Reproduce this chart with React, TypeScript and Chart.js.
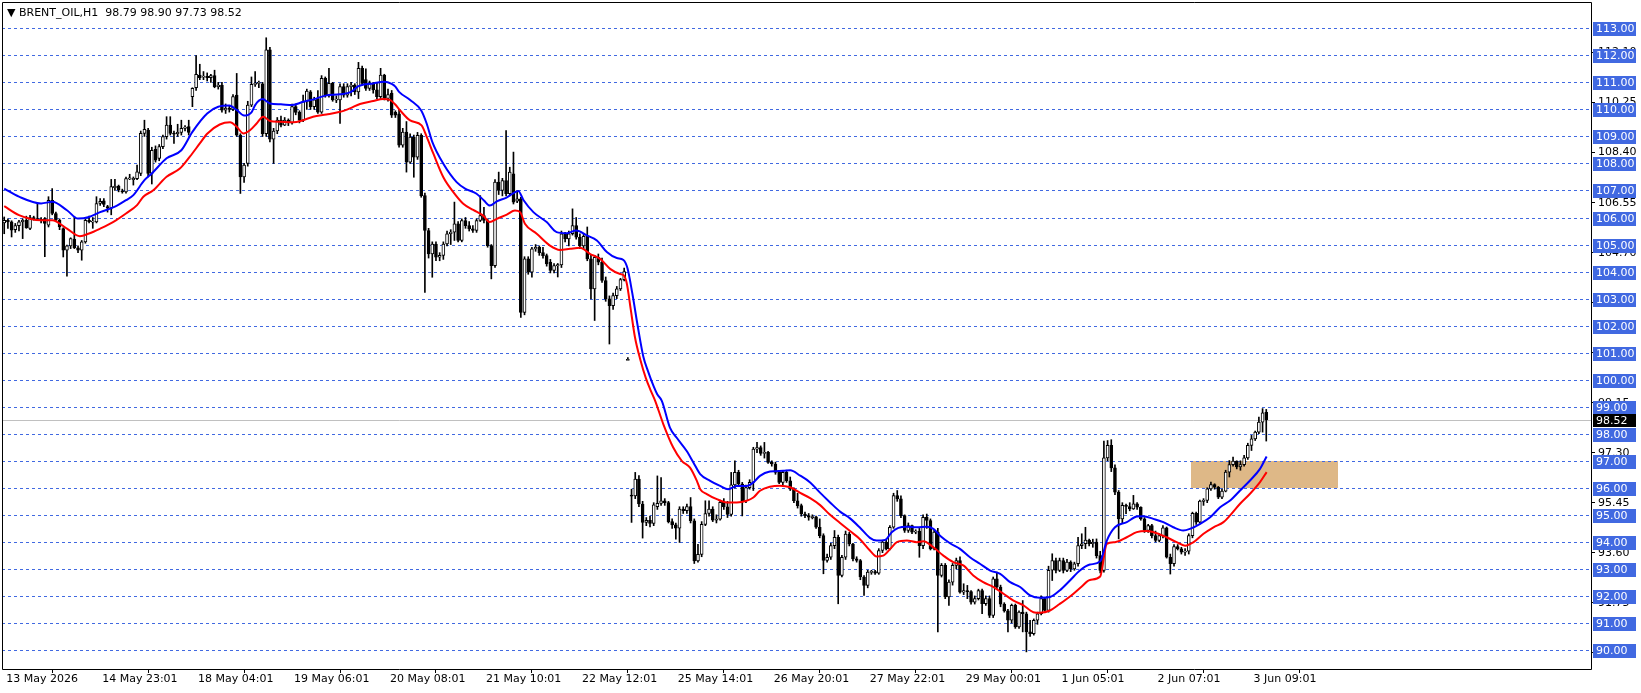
import React, { useEffect, useRef } from 'react';
import { Chart, registerables } from 'chart.js';

Chart.register(...registerables);

// ---- OHLC data (H1 bars, index 0 = 13 May 2026 evening) ----
const opens = [
  105.80,105.90,105.84,105.55,105.70,105.84,105.90,105.60,106.00,105.96,
  105.93,105.96,105.72,106.64,106.15,105.90,105.59,104.79,104.95,105.20,
  104.88,104.79,105.10,105.90,105.84,105.84,106.52,106.62,106.40,106.35,
  107.10,107.16,106.98,106.95,107.44,107.40,107.44,107.63,109.11,109.23,
  107.63,108.52,108.19,108.62,108.99,109.42,109.11,109.10,109.15,109.30,
  109.36,110.47,110.80,111.27,111.20,111.22,111.17,111.25,110.84,110.90,
  109.97,110.05,110.00,110.53,109.05,107.50,108.00,110.16,110.93,110.96,
  110.95,109.10,112.20,108.90,109.20,109.60,109.42,109.60,109.50,110.10,
  109.90,109.60,110.28,110.65,110.10,110.40,109.90,111.15,110.53,110.96,
  110.35,110.35,110.84,110.53,110.84,110.90,110.65,111.52,111.10,110.78,
  110.96,110.72,110.47,111.27,110.41,110.60,109.89,109.84,108.68,109.16,
  108.05,108.98,108.23,109.04,106.81,105.52,104.65,105.02,104.53,104.60,
  105.02,105.40,105.46,105.77,105.15,105.89,105.70,105.58,105.52,105.89,
  106.07,105.89,104.96,104.22,107.31,107.00,107.37,106.88,107.62,106.60,
  106.69,102.49,104.47,103.98,104.84,104.90,104.70,104.59,104.35,104.04,
  104.22,104.25,105.40,105.21,105.40,105.70,105.27,104.95,105.30,104.47,
  103.36,104.53,104.35,103.67,102.99,102.74,103.11,103.36,103.70,100.73,
  95.72,95.70,96.32,95.40,94.72,94.80,94.68,95.30,95.42,95.52,
  95.45,94.75,94.63,94.51,95.21,95.15,95.31,94.78,93.30,93.54,
  94.65,95.05,95.21,94.80,94.84,95.46,95.30,95.02,96.11,96.57,
  96.14,95.52,96.01,96.20,97.43,97.49,97.27,97.31,96.94,96.88,
  96.57,96.20,96.57,96.26,95.95,95.52,95.34,95.03,94.97,94.91,
  94.93,94.54,94.23,93.31,93.43,93.86,94.17,92.76,93.43,94.29,
  93.92,93.37,93.31,92.70,92.39,92.88,92.90,92.84,93.68,93.99,
  93.74,94.54,95.71,95.59,94.97,94.42,94.60,94.36,94.40,93.86,
  94.91,94.79,93.74,94.36,92.76,93.13,91.96,92.51,93.13,93.31,
  92.14,92.20,92.16,91.77,91.90,92.20,91.71,91.90,91.28,92.63,
  92.33,91.70,91.45,91.10,91.65,90.85,91.40,91.34,90.67,90.60,
  91.10,91.34,91.90,91.46,92.95,93.31,92.94,93.31,92.94,93.25,
  93.00,93.19,93.86,93.93,94.07,93.93,93.99,93.49,92.94,97.11,
  97.57,96.74,95.84,94.85,95.35,95.31,95.22,95.41,95.28,94.85,
  94.42,94.60,94.23,94.05,94.23,94.52,93.43,93.19,93.83,93.74,
  93.62,93.66,94.23,95.06,94.73,95.51,95.53,95.96,96.12,96.02,
  95.65,95.88,96.58,96.86,96.99,96.77,96.86,97.11,97.57,97.81,
  98.06,98.43,98.79,
];
const highs = [
  106.02,105.95,105.88,105.78,105.90,105.95,106.05,106.08,106.05,106.50,
  106.00,106.00,106.77,107.07,106.20,105.95,105.62,104.98,105.25,106.02,
  104.95,105.15,105.95,106.05,106.00,106.77,106.70,106.70,106.45,107.41,
  107.41,107.20,107.05,107.50,107.60,107.50,107.94,109.20,109.60,109.30,
  108.60,108.65,108.70,109.05,109.73,109.73,109.20,109.45,109.60,109.40,
  109.60,110.80,111.99,111.67,111.40,111.35,111.30,111.45,111.00,111.00,
  110.20,110.15,110.55,111.33,109.10,108.00,110.30,111.20,111.40,111.05,
  111.00,112.65,112.30,109.30,109.70,109.75,109.70,109.65,110.20,110.20,
  109.95,110.53,110.75,110.70,110.45,110.70,111.25,111.20,111.52,111.00,
  110.50,110.95,110.95,110.95,111.00,110.95,111.74,111.60,111.50,111.05,
  111.00,111.00,111.52,111.30,110.75,110.70,109.95,110.00,109.30,109.55,
  109.10,109.05,109.15,109.10,106.90,105.60,105.10,105.10,104.70,105.10,
  105.50,105.55,106.57,105.85,105.95,106.00,105.85,105.70,105.95,106.81,
  106.38,105.95,105.00,107.40,107.68,107.45,109.22,107.86,108.42,107.00,
  106.75,104.55,104.55,104.90,105.00,104.95,104.90,104.65,104.45,104.30,
  104.30,105.50,105.45,105.50,106.32,106.00,105.40,105.40,105.65,104.60,
  104.60,104.65,104.50,103.80,103.10,103.20,103.45,103.75,104.13,100.82,
  95.95,96.57,96.45,95.50,94.90,94.95,95.45,96.44,96.38,95.60,
  95.50,94.85,94.70,95.30,95.30,95.40,95.64,94.85,93.91,94.75,
  95.52,95.52,95.30,95.00,95.55,95.60,95.50,96.57,97.00,96.65,
  96.20,96.10,96.30,97.50,97.68,97.55,97.68,97.35,97.00,96.95,
  96.62,96.65,96.65,96.40,96.00,95.80,95.40,95.10,95.05,95.00,
  94.95,94.85,94.30,93.55,93.95,94.42,94.25,93.50,94.40,94.35,
  93.95,93.45,93.35,92.75,92.95,92.95,92.95,93.75,94.05,94.10,
  94.60,95.80,95.90,95.70,95.00,94.70,94.62,94.45,94.50,95.00,
  95.03,94.85,94.45,94.50,93.20,93.20,92.60,93.20,93.40,93.45,
  92.45,92.39,92.20,92.00,92.25,92.25,92.00,92.00,92.70,92.88,
  92.40,91.75,91.50,91.70,91.70,91.45,91.83,91.40,91.10,91.15,
  91.40,92.00,91.95,93.10,93.56,93.40,93.40,93.40,93.35,93.30,
  93.25,94.17,94.30,94.54,94.10,94.10,94.11,93.65,97.73,97.75,
  97.78,96.85,95.90,95.45,95.40,95.45,95.72,95.45,95.30,94.90,
  94.65,94.65,94.40,94.30,94.60,94.55,93.55,93.90,93.90,93.80,
  93.75,94.30,95.10,95.10,95.55,95.60,96.00,96.21,96.15,96.05,
  95.95,96.65,97.01,97.14,97.00,97.00,97.20,97.65,97.94,98.10,
  98.62,98.93,98.90,
];
const lows = [
  105.40,105.60,105.28,105.45,105.50,105.22,105.60,105.55,105.90,105.90,
  105.80,104.55,105.65,106.10,105.85,105.55,104.54,103.83,104.85,104.85,
  104.70,104.42,105.05,105.80,105.60,105.80,106.45,106.40,106.20,106.10,
  107.00,106.95,106.90,106.90,107.40,107.20,107.40,107.55,109.00,107.50,
  107.24,108.05,108.10,108.55,108.90,109.05,108.74,109.00,109.05,109.20,
  109.05,110.10,110.70,111.10,111.10,111.05,111.00,110.80,110.75,109.90,
  109.85,109.90,109.95,109.00,106.89,107.30,107.90,110.10,110.85,110.80,
  109.00,109.00,108.80,108.00,109.10,109.35,109.40,109.40,109.45,109.80,
  109.50,109.55,110.00,110.00,110.00,109.85,109.85,110.45,110.45,110.30,
  110.25,109.48,110.45,110.45,110.50,110.55,110.40,110.90,110.70,110.70,
  110.60,110.40,110.40,110.35,110.30,109.70,109.70,108.60,108.60,107.68,
  108.00,107.49,108.15,106.75,103.23,104.50,103.79,104.40,104.40,104.45,
  104.95,105.00,105.15,105.10,105.10,105.60,105.50,105.45,105.45,105.85,
  105.80,104.90,103.73,104.15,106.85,106.80,106.80,106.80,106.50,106.55,
  102.30,102.40,103.90,103.79,104.75,104.60,104.50,104.20,103.95,103.95,
  103.80,104.15,105.10,104.95,105.35,105.20,104.85,104.85,104.40,102.99,
  102.19,104.25,103.60,102.90,101.32,102.60,103.00,103.30,103.65,100.73,
  94.72,95.60,95.30,94.14,94.60,94.55,94.60,95.20,95.35,95.35,
  94.70,94.50,94.10,93.98,95.05,95.05,94.70,93.20,93.25,93.45,
  94.60,94.95,94.75,94.70,94.80,95.20,94.90,94.95,96.00,96.05,
  94.96,95.45,95.95,95.90,97.30,97.20,97.10,96.90,96.80,96.50,
  96.15,96.10,96.20,95.90,95.45,95.25,94.95,94.90,94.80,94.85,
  94.50,94.15,92.82,93.25,93.35,93.75,91.71,92.70,93.35,93.85,
  93.30,93.25,92.60,92.02,92.30,92.80,92.80,92.80,93.60,93.70,
  93.70,94.50,95.50,94.90,94.35,94.35,94.30,94.30,93.43,93.75,
  94.50,93.70,93.70,90.67,92.70,91.90,91.65,92.40,93.00,92.10,
  92.05,91.90,91.70,91.70,91.85,91.34,91.65,91.20,91.20,92.25,
  91.60,91.40,90.67,91.00,90.80,90.80,90.67,89.93,90.50,90.55,
  90.95,91.30,91.40,91.40,92.57,92.85,92.90,92.85,92.90,92.90,
  92.95,93.10,93.75,93.75,93.85,93.80,93.40,92.85,92.88,97.00,
  96.60,95.75,94.11,94.70,95.04,95.15,95.20,95.20,94.80,94.35,
  94.35,94.15,94.00,94.00,94.15,93.40,92.81,93.10,93.70,93.55,
  93.50,93.55,94.15,94.65,94.70,95.35,95.45,95.90,95.95,95.60,
  95.60,95.85,96.40,96.80,96.70,96.65,96.80,97.05,97.38,97.75,
  98.00,98.06,97.73,
];
const closes = [
  105.90,105.84,105.53,105.70,105.84,105.90,105.62,106.00,105.96,105.93,
  105.88,105.78,106.64,106.15,105.90,105.65,104.79,104.95,105.22,104.88,
  104.79,105.10,105.90,105.85,105.86,106.52,106.60,106.48,106.35,107.14,
  107.16,107.02,106.96,107.44,107.46,107.45,107.69,109.11,109.26,107.63,
  108.49,108.12,108.62,108.99,109.42,109.11,109.10,109.15,109.30,109.35,
  109.15,110.78,111.30,111.17,111.22,111.17,111.25,110.84,110.90,109.97,
  110.05,110.00,110.47,109.05,107.50,107.94,110.16,110.93,110.96,111.00,
  109.10,112.20,108.90,109.20,109.60,109.42,109.60,109.50,110.10,109.89,
  109.60,110.28,110.68,110.10,110.35,109.90,111.15,110.53,110.96,110.35,
  110.37,110.84,110.53,110.84,110.90,110.65,111.52,110.96,110.78,110.96,
  110.72,110.47,111.27,110.41,110.55,109.79,109.79,108.68,109.16,108.05,
  108.98,108.23,109.04,106.81,105.52,104.65,105.02,104.53,104.60,105.02,
  105.40,105.46,105.77,105.15,105.89,105.70,105.58,105.52,105.89,106.07,
  105.89,104.96,104.22,107.31,107.00,107.37,106.88,107.68,106.57,106.69,
  102.49,104.47,103.98,104.84,104.90,104.70,104.59,104.28,104.04,104.22,
  104.25,105.40,105.21,105.40,105.70,105.27,104.95,105.30,104.47,103.36,
  104.53,104.35,103.67,102.99,102.74,103.11,103.36,103.70,104.00,100.73,
  95.70,96.32,95.40,94.72,94.80,94.68,95.37,95.43,95.52,95.45,
  94.75,94.63,94.51,95.21,95.15,95.31,94.78,93.30,93.54,94.65,
  95.05,95.21,94.80,94.84,95.46,95.30,95.02,96.11,96.57,96.14,
  95.52,96.01,96.20,97.43,97.49,97.27,97.31,96.94,96.88,96.57,
  96.20,96.57,96.26,95.95,95.52,95.34,95.03,94.97,94.91,94.93,
  94.54,94.23,93.31,93.43,93.86,94.17,92.76,93.43,94.29,93.92,
  93.37,93.31,92.70,92.39,92.88,92.90,92.84,93.68,93.99,93.74,
  94.54,95.71,95.59,94.97,94.42,94.60,94.36,94.40,93.86,94.91,
  94.79,93.74,94.36,92.76,93.13,91.96,92.51,93.13,93.31,92.14,
  92.20,92.16,91.77,91.90,92.20,91.71,91.90,91.28,92.63,92.33,
  91.70,91.45,91.10,91.65,90.85,91.40,91.34,90.67,90.60,91.10,
  91.34,91.90,91.46,92.95,93.31,92.94,93.31,92.94,93.25,93.00,
  93.19,93.86,93.93,94.07,93.93,93.99,93.49,92.94,97.11,97.57,
  96.74,95.84,94.85,95.35,95.31,95.22,95.41,95.28,94.85,94.42,
  94.60,94.23,94.05,94.23,94.52,93.43,93.19,93.83,93.74,93.62,
  93.66,94.23,95.06,94.73,95.51,95.53,95.96,96.12,96.02,95.65,
  95.88,96.58,96.86,96.99,96.77,96.86,97.11,97.57,97.81,98.06,
  98.43,98.77,98.52,
];

// ---- Moving averages (bar index, price) ----
const blueIdx = [0,4,10,13,17,20,23,26,30,33,35,38,40,44,48,51,55,58,61,63,65,67,68,70,72,75,78,81,84,87,91,94,96,100,103,105,106,107,110,113,114.5,116,119,122.6,125,128,130,131.6,133.5,136,138,139.3,140.7,143.4,147,149.7,152.4,155,158,160.6,163.3,166,167.8,168.9,170.2,171.7,173.2,174.5,176,177,178.2,180.4,182.2,184.9,186.75,188.6,191.3,194,196.2,198.5,201.2,203,204.8,207.5,211.1,213,215.7,218.4,221,223.8,226.5,229.2,231.8,234.6,236.4,238.7,240.5,242.3,244.6,247.3,250,251.8,253.6,256.3,259,261.7,264.4,267.2,269.9,272.6,275.3,278,280.7,283.4,286,288.8,291.5,294.2,297,298.8,301,304.2,306.9,308.7,311.4,314.1,316.8,319.5,321.3,324.1,326.8,329.5,332.2,334.9,337.6,340.3,342.1];
const blueVal = [107.07,106.77,106.52,106.58,106.27,105.96,106.02,106.2,106.4,106.64,106.83,107.38,107.63,108.19,108.49,109.17,109.85,110.1,110.14,109.98,109.77,109.89,110.16,110.38,110.22,110.19,110.16,110.28,110.38,110.51,110.56,110.65,110.86,110.96,111.02,110.94,110.84,110.65,110.35,109.96,109.47,108.8,107.99,107.31,107.06,106.88,106.63,106.44,106.6,106.73,106.9,106.98,106.65,106.2,105.83,105.46,105.42,105.52,105.33,105.15,104.72,104.5,104.43,104.12,103.2,101.96,100.85,100.3,99.75,99.45,99.22,98.23,97.86,97.37,96.94,96.51,96.26,96.07,95.95,96.07,96.07,96.2,96.44,96.6,96.63,96.65,96.45,96.2,95.83,95.46,95.12,94.87,94.54,94.15,94.05,94.07,94.36,94.52,94.56,94.54,94.56,94.48,94.23,93.95,93.74,93.43,93.19,92.94,92.82,92.51,92.33,92.02,91.93,91.96,92.2,92.57,92.94,93.16,93.28,94.05,94.54,94.73,94.94,94.95,94.85,94.73,94.54,94.42,94.48,94.67,94.91,95.28,95.53,95.9,96.27,96.7,97.16];
const redIdx = [0,4,10,13,17,20.5,23,26,29.6,33,36,37.7,40.4,44,47.6,50.3,53,55,58.4,61.2,63,64.8,66.6,68.4,70.2,72,74.7,78.3,81,83.7,87.3,91,93.7,96.4,100,102.7,104.5,105.9,107.3,110,113.1,114.5,116.3,119,121.7,124.4,127.1,129.8,131.6,133.5,136.2,138.4,139.8,141.1,144.3,147.9,150.6,153.3,156,158.8,161.5,164.2,166.9,167.8,168.7,169.8,170.9,172.4,173.9,175.2,176.4,178.6,181.3,183.6,185.85,187.7,188.6,190.4,193.1,195.8,198.5,201.2,203,204.8,207.5,210.2,213,215.7,218.4,221.1,223.8,226.5,229.2,231.9,234.6,236.4,238.2,240.1,241.9,244.6,247.3,249.1,251.8,254.5,257.2,259.9,262.6,265.3,268.1,270.8,273.5,276.2,278.9,280.7,283.4,286,289,292,294.2,297,298.8,301,304.2,306.9,309.6,312.3,315,317.7,320,322.3,325,327.7,330.4,332.2,334.9,337.6,340.3,342.1];
const redVal = [106.42,106.09,105.9,105.9,105.59,105.31,105.41,105.59,105.84,106.15,106.46,106.77,107.01,107.51,107.81,108.25,108.74,109.1,109.44,109.52,109.36,109.11,109.23,109.48,109.73,109.57,109.54,109.52,109.6,109.73,109.81,109.91,110.04,110.2,110.31,110.38,110.35,110.19,109.96,109.59,109.41,108.98,108.36,107.49,106.94,106.51,106.28,106.07,105.83,105.95,106.11,106.26,106.2,105.77,105.4,104.96,104.8,104.84,104.88,104.65,104.47,104.1,103.91,103.87,103.57,102.58,101.59,100.73,100.05,99.6,99.22,98.36,97.49,97.0,96.75,96.26,95.95,95.77,95.58,95.46,95.46,95.52,95.64,95.89,96.04,96.08,96.02,95.81,95.62,95.36,95.0,94.7,94.4,94.1,93.68,93.46,93.49,93.74,93.99,94.05,93.99,94.02,93.8,93.49,93.25,93.13,92.76,92.51,92.33,92.08,91.83,91.65,91.4,91.38,91.46,91.7,92.0,92.35,92.59,92.72,93.93,93.99,94.17,94.36,94.4,94.32,94.17,93.99,93.86,93.99,94.3,94.54,94.73,94.98,95.41,95.78,96.21,96.58];

// ---- Axis labels ----
const timeTickIdx = [0,26,52,78,104,130,156,182,208,234,260,286,312,338];
const timeTickLabels = ['13 May 2026','14 May 23:01','18 May 04:01','19 May 06:01','20 May 08:01','21 May 10:01','22 May 12:01','25 May 14:01','26 May 20:01','27 May 22:01','29 May 00:01','1 Jun 05:01','2 Jun 07:01','3 Jun 09:01'];
const priceScaleTicks = [112.10,110.25,108.40,106.55,104.70,102.85,101.00,99.15,97.30,95.45,93.60,91.75,89.90];
const levelLines = [90,91,92,93,94,95,96,97,98,99,100,101,102,103,104,105,106,107,108,109,110,111,112,113];

// ---- Annotations ----
const zoneFrom = 321.6;
const zoneTo = 361.3;
const zoneLow = 96;
const zoneHigh = 97;
const lastPrice = 98.52;
const titleText = '\u25BC BRENT_OIL,H1  98.79 98.90 97.73 98.52';

const X_MIN = -0.6, X_MAX = 430;
const Y_MIN = 89.297, Y_MAX = 113.973;
const FONT = 'DejaVu Sans';
const LEVEL_BLUE = '#4169E1';

export default function App() {
  const ref = useRef<HTMLCanvasElement>(null);

  useEffect(() => {
    document.body.style.margin = '0';
    document.body.style.overflow = 'hidden';
    const canvas = ref.current;
    if (!canvas) return;

    const wickData: any[] = [];
    const bodyData: any[] = [];
    const bodyColors: string[] = [];
    for (let i = 0; i < closes.length; i++) {
      const o = opens[i], c = closes[i];
      wickData.push({ x: i, y: [lows[i], highs[i]] });
      let lo = Math.min(o, c), hi = Math.max(o, c);
      if (hi - lo < 0.04) { const m = (hi + lo) / 2; lo = m - 0.02; hi = m + 0.02; }
      bodyData.push({ x: i, y: [lo, hi] });
      bodyColors.push(c >= o ? '#FFFFFF' : '#000000');
    }

    const overlay = {
      id: 'mtOverlay',
      beforeDatasetsDraw(chart: any) {
        const { ctx, chartArea: a, scales } = chart;
        const x = scales.x, y = scales.y;
        ctx.save();
        ctx.beginPath();
        ctx.rect(a.left, a.top, a.right - a.left, a.bottom - a.top);
        ctx.clip();
        // support/resistance zone
        const zx1 = x.getPixelForValue(zoneFrom), zx2 = x.getPixelForValue(zoneTo);
        const zy1 = y.getPixelForValue(zoneHigh), zy2 = y.getPixelForValue(zoneLow);
        ctx.fillStyle = '#DEB887';
        ctx.fillRect(Math.round(zx1), Math.round(zy1), Math.round(zx2 - zx1), Math.round(zy2 - zy1));
        // dashed horizontal levels
        ctx.strokeStyle = LEVEL_BLUE;
        ctx.lineWidth = 1;
        ctx.setLineDash([3, 3]);
        levelLines.forEach((p) => {
          const py = Math.round(y.getPixelForValue(p)) + 0.5;
          ctx.beginPath();
          ctx.moveTo(a.left, py);
          ctx.lineTo(a.right, py);
          ctx.stroke();
        });
        ctx.setLineDash([]);
        // last price line
        const lp = Math.round(y.getPixelForValue(lastPrice)) + 0.5;
        ctx.strokeStyle = '#C0C0C0';
        ctx.beginPath();
        ctx.moveTo(a.left, lp);
        ctx.lineTo(a.right, lp);
        ctx.stroke();
        ctx.restore();
      },
      afterDraw(chart: any) {
        const { ctx, chartArea: a, scales } = chart;
        const y = scales.y;
        ctx.save();
        // frame
        ctx.strokeStyle = '#000';
        ctx.lineWidth = 1;
        ctx.beginPath();
        ctx.moveTo(a.left + 0.5, a.top + 0.5);
        ctx.lineTo(a.right + 0.5, a.top + 0.5);
        ctx.lineTo(a.right + 0.5, a.bottom + 0.5);
        ctx.lineTo(a.left + 0.5, a.bottom + 0.5);
        ctx.closePath();
        ctx.stroke();
        // level labels
        ctx.font = `11px "${FONT}"`;
        ctx.textBaseline = 'middle';
        ctx.textAlign = 'left';
        levelLines.forEach((p) => {
          const py = Math.round(y.getPixelForValue(p));
          ctx.fillStyle = LEVEL_BLUE;
          ctx.fillRect(a.right + 2, py - 6, 43, 14);
          ctx.fillStyle = '#FFFFFF';
          ctx.fillText(p.toFixed(2), a.right + 5, py + 1);
        });
        // last price label
        const lp = Math.round(y.getPixelForValue(lastPrice));
        ctx.fillStyle = '#000000';
        ctx.fillRect(a.right + 2, lp - 6, 43, 13);
        ctx.fillStyle = '#FFFFFF';
        ctx.fillText(lastPrice.toFixed(2), a.right + 5, lp + 1);
        // title
        ctx.fillStyle = '#000000';
        ctx.fillText(titleText, 7, 13);
        ctx.restore();
      },
    };

    const chart = new Chart(canvas, {
      type: 'bar',
      data: {
        datasets: [
          {
            type: 'line',
            label: 'MA high',
            data: blueIdx.map((v, k) => ({ x: v, y: blueVal[k] })),
            borderColor: '#0000FF',
            borderWidth: 2,
            pointRadius: 0,
            cubicInterpolationMode: 'monotone',
            order: 1,
          } as any,
          {
            type: 'line',
            label: 'MA low',
            data: redIdx.map((v, k) => ({ x: v, y: redVal[k] })),
            borderColor: '#FF0000',
            borderWidth: 2,
            pointRadius: 0,
            cubicInterpolationMode: 'monotone',
            order: 1,
          } as any,
          {
            label: 'bodies',
            data: bodyData,
            backgroundColor: bodyColors,
            borderColor: '#000000',
            borderWidth: 1,
            borderSkipped: false,
            barThickness: 3,
            grouped: false,
            order: 2,
          } as any,
          {
            label: 'wicks',
            data: wickData,
            backgroundColor: '#000000',
            borderWidth: 0,
            barThickness: 1,
            grouped: false,
            order: 3,
          } as any,
        ],
      },
      options: {
        animation: false,
        responsive: false,
        maintainAspectRatio: false,
        events: [],
        layout: { padding: { left: 2, top: 2, right: 0, bottom: 0 } },
        plugins: { legend: { display: false }, tooltip: { enabled: false }, title: { display: false } },
        scales: {
          x: {
            type: 'linear',
            min: X_MIN,
            max: X_MAX,
            offset: false,
            grid: { display: true, drawOnChartArea: false, drawTicks: true, tickLength: 4, color: '#000000' },
            border: { display: false },
            ticks: {
              autoSkip: false,
              maxRotation: 0,
              minRotation: 0,
              align: 'start',
              padding: 0,
              labelOffset: 2,
              color: '#000000',
              font: { family: FONT, size: 11 },
              callback: (_v: any, i: number) => timeTickLabels[i],
            },
            afterBuildTicks: (s: any) => { s.ticks = timeTickIdx.map((v) => ({ value: v })); },
            afterFit: (s: any) => { s.height = 24; s.paddingLeft = 0; s.paddingRight = 0; },
          } as any,
          y: {
            type: 'linear',
            position: 'right',
            min: Y_MIN,
            max: Y_MAX,
            grid: { display: true, drawOnChartArea: false, drawTicks: true, tickLength: 4, color: '#000000' },
            border: { display: false },
            ticks: {
              padding: 3,
              color: '#000000',
              font: { family: FONT, size: 11 },
              callback: (v: any) => Number(v).toFixed(2),
            },
            afterBuildTicks: (s: any) => { s.ticks = priceScaleTicks.map((v) => ({ value: v })); },
            afterFit: (s: any) => { s.width = 50; s.paddingTop = 0; s.paddingBottom = 0; },
          } as any,
        },
      } as any,
      plugins: [overlay],
    });

    return () => chart.destroy();
  }, []);

  return (
    <div style={{ width: 1641, height: 693, background: '#FFFFFF' }}>
      <canvas ref={ref} width={1641} height={693} style={{ display: 'block' }} />
    </div>
  );
}
